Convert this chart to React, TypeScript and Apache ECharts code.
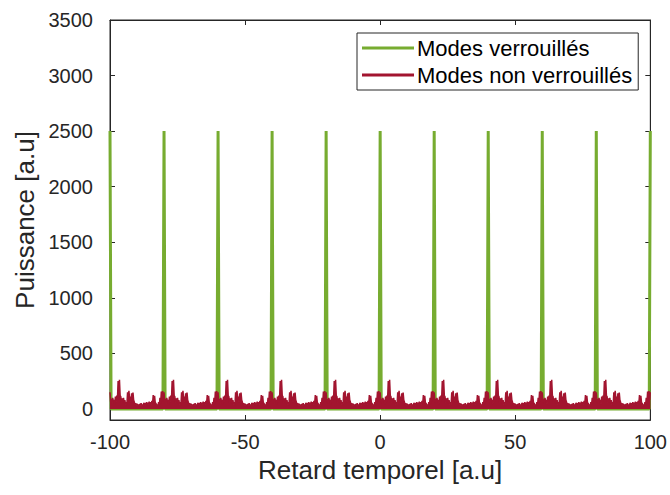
import React, { useEffect, useRef } from "react";
import * as echarts from "echarts";

// Axis ranges and ticks
const X_MIN = -100;
const X_MAX = 100;
const X_TICK_STEP = 50;
const Y_MIN = -100;
const Y_MAX = 3500;
const Y_TICKS = [0, 500, 1000, 1500, 2000, 2500, 3000, 3500];

// Locked modes: periodic pulses
const LOCKED_PULSE_POSITIONS = [-100, -80, -60, -40, -20, 0, 20, 40, 60, 80, 100];
const LOCKED_PULSE_HEIGHT = 2500;
const LOCKED_PULSE_HALF_WIDTH = 0.4;

// Unlocked modes: one period (20 units), sampled every 0.5 units after each pulse.
const UNLOCKED_PERIOD = 20;
const UNLOCKED_STEP = 0.5;
const UNLOCKED_PEAKS = [
  150, 90, 100, 80, 110, 120, 250, 262, 110, 95,
  100, 80, 60, 150, 162, 110, 140, 148, 80, 50,
  45, 40, 45, 52, 40, 55, 50, 60, 55, 65,
  60, 72, 125, 118, 50, 40, 60, 100, 155, 160,
];
const UNLOCKED_TROUGHS = [
  60, 45, 70, 40, 60, 80, 90, 120, 55, 60,
  50, 40, 35, 70, 90, 60, 70, 80, 40, 30,
  30, 25, 30, 30, 25, 35, 30, 35, 40, 35,
  40, 45, 60, 55, 30, 25, 35, 50, 70, 80,
];

const LOCKED_NAME = "Modes verrouillés";
const UNLOCKED_NAME = "Modes non verrouillés";

function buildLocked(): [number, number][] {
  const pts: [number, number][] = [];
  LOCKED_PULSE_POSITIONS.forEach((c) => {
    if (c - LOCKED_PULSE_HALF_WIDTH >= X_MIN) pts.push([c - LOCKED_PULSE_HALF_WIDTH, 0]);
    pts.push([c, LOCKED_PULSE_HEIGHT]);
    if (c + LOCKED_PULSE_HALF_WIDTH <= X_MAX) pts.push([c + LOCKED_PULSE_HALF_WIDTH, 0]);
  });
  return pts;
}

function buildUnlocked(): [number, number][] {
  const pts: [number, number][] = [];
  for (let start = X_MIN; start < X_MAX; start += UNLOCKED_PERIOD) {
    UNLOCKED_PEAKS.forEach((v, k) => {
      const x = start + k * UNLOCKED_STEP;
      pts.push([x, v]);
      pts.push([x + UNLOCKED_STEP / 2, UNLOCKED_TROUGHS[k]]);
    });
  }
  pts.push([X_MAX, UNLOCKED_PEAKS[0]]);
  return pts;
}

const FONT = "Liberation Sans, Arial, Helvetica, sans-serif";
const AX = "#262626";
const GREEN = "#77AC30";
const RED = "#A2142F";

export default function App() {
  const ref = useRef<HTMLDivElement>(null);
  useEffect(() => {
    if (!ref.current) return;
    const chart = echarts.init(ref.current, undefined, { renderer: "svg" });
    const tickStyle = { inside: true, length: 5, lineStyle: { color: AX, width: 1 } };
    chart.setOption({
      animation: false,
      backgroundColor: "#ffffff",
      grid: {
        left: 110,
        right: 19,
        top: 20,
        bottom: 75,
        show: true,
        borderColor: AX,
        borderWidth: 1,
        containLabel: false,
      },
      legend: {
        left: 357,
        top: 33,
        orient: "vertical",
        icon: "rect",
        itemWidth: 52,
        itemHeight: 3,
        itemGap: 5,
        padding: [4, 6, 4, 5],
        borderColor: AX,
        borderWidth: 1,
        backgroundColor: "#ffffff",
        textStyle: { fontFamily: FONT, fontSize: 22, color: "#000000", padding: [0, 0, 0, -2] },
        data: [LOCKED_NAME, UNLOCKED_NAME],
      },
      xAxis: [
        {
          type: "value",
          min: X_MIN,
          max: X_MAX,
          interval: X_TICK_STEP,
          position: "bottom",
          name: "Retard temporel [a.u]",
          nameLocation: "middle",
          nameGap: 36,
          nameTextStyle: { fontFamily: FONT, fontSize: 26, color: AX },
          axisLine: { show: true, onZero: false, lineStyle: { color: AX } },
          axisTick: tickStyle,
          axisLabel: { fontFamily: FONT, fontSize: 20, color: AX, margin: 12 },
          splitLine: { show: false },
        },
        {
          type: "value",
          min: X_MIN,
          max: X_MAX,
          interval: X_TICK_STEP,
          position: "top",
          axisLine: { show: true, onZero: false, lineStyle: { color: AX } },
          axisTick: tickStyle,
          axisLabel: { show: false },
          splitLine: { show: false },
        },
      ],
      yAxis: [
        {
          type: "value",
          min: Y_MIN,
          max: Y_MAX,
          position: "left",
          name: "Puissance [a.u]",
          nameLocation: "middle",
          nameGap: 68,
          nameTextStyle: { fontFamily: FONT, fontSize: 26, color: AX },
          axisLine: { show: true, onZero: false, lineStyle: { color: AX } },
          axisTick: { ...tickStyle, customValues: Y_TICKS },
          axisLabel: {
            fontFamily: FONT,
            fontSize: 20,
            color: AX,
            margin: 17,
            customValues: Y_TICKS,
            formatter: (v: number) => String(v),
          },
          splitLine: { show: false },
        },
        {
          type: "value",
          min: Y_MIN,
          max: Y_MAX,
          position: "right",
          axisLine: { show: true, onZero: false, lineStyle: { color: AX } },
          axisTick: { ...tickStyle, customValues: Y_TICKS },
          axisLabel: { show: false },
          splitLine: { show: false },
        },
      ],
      series: [
        {
          name: LOCKED_NAME,
          type: "line",
          xAxisIndex: 0,
          yAxisIndex: 0,
          data: buildLocked(),
          showSymbol: false,
          symbol: "none",
          lineStyle: { color: GREEN, width: 3 },
          itemStyle: { color: GREEN },
          z: 2,
        },
        {
          name: UNLOCKED_NAME,
          type: "line",
          xAxisIndex: 0,
          yAxisIndex: 0,
          data: buildUnlocked(),
          showSymbol: false,
          symbol: "none",
          lineStyle: { color: RED, width: 1.5 },
          itemStyle: { color: RED },
          areaStyle: { color: RED, opacity: 1, origin: 0 },
          z: 3,
        },
      ],
    });
    return () => chart.dispose();
  }, []);
  return (
    <div
      ref={ref}
      style={{ position: "fixed", left: 0, top: 0, width: 670, height: 495, background: "#fff" }}
    />
  );
}
